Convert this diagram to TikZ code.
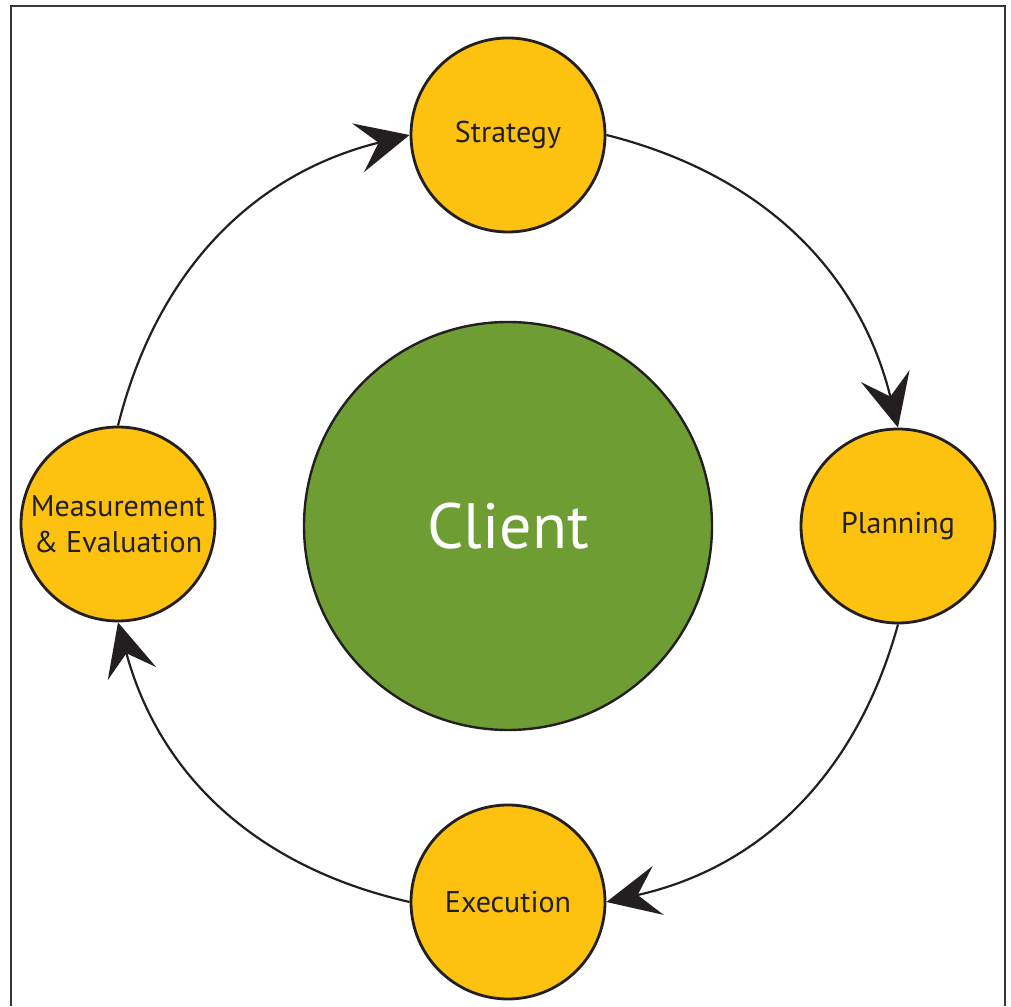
\documentclass[tikz,border=0pt]{standalone}
\usepackage{fontspec}
\setmainfont{PT Sans}
\usetikzlibrary{arrows.meta}
\definecolor{stage}{HTML}{FDC20F}
\definecolor{core}{HTML}{6E9E33}
\definecolor{ink}{HTML}{231F20}
\begin{document}
\begin{tikzpicture}[x=1pt,y=1pt,
  stagenode/.style={circle,draw=ink,line width=2.8pt,fill=stage,
    minimum size=194pt,inner sep=0pt,align=center,text=ink,
    font=\fontsize{30}{36}\selectfont},
  corenode/.style={circle,draw=ink,line width=2.4pt,fill=core,
    minimum size=408pt,inner sep=0pt,text=white,
    font=\fontsize{64}{70}\selectfont},
  flow/.style={draw=ink,line width=2.2pt,
    -{Stealth[length=53pt,width=50pt,inset=21pt]}}]
\useasboundingbox (0,0) rectangle (1011,1006);
% frame (open at the bottom)
\draw[line width=2pt,draw=ink!90] (11,0) -- (11,1000) -- (1005,1000) -- (1005,0);
% nodes
\node[corenode] (client) at (508,480) {Client};
\node[stagenode] (strategy) at (508,871) {Strategy};
\node[stagenode] (planning) at (898,480) {Planning};
\node[stagenode] (execution) at (508,104) {Execution};
\node[stagenode] (measure) at (118,482) {Measurement\\\& Evaluation};
% cycle
\draw[flow] (strategy.east) to[bend left=31] (planning.north);
\draw[flow] (planning.south) to[bend left=31] (execution.east);
\draw[flow] (execution.west) to[bend left=31] (measure.south);
\draw[flow] (measure.north) to[bend left=31] (strategy.west);
\end{tikzpicture}
\end{document}
